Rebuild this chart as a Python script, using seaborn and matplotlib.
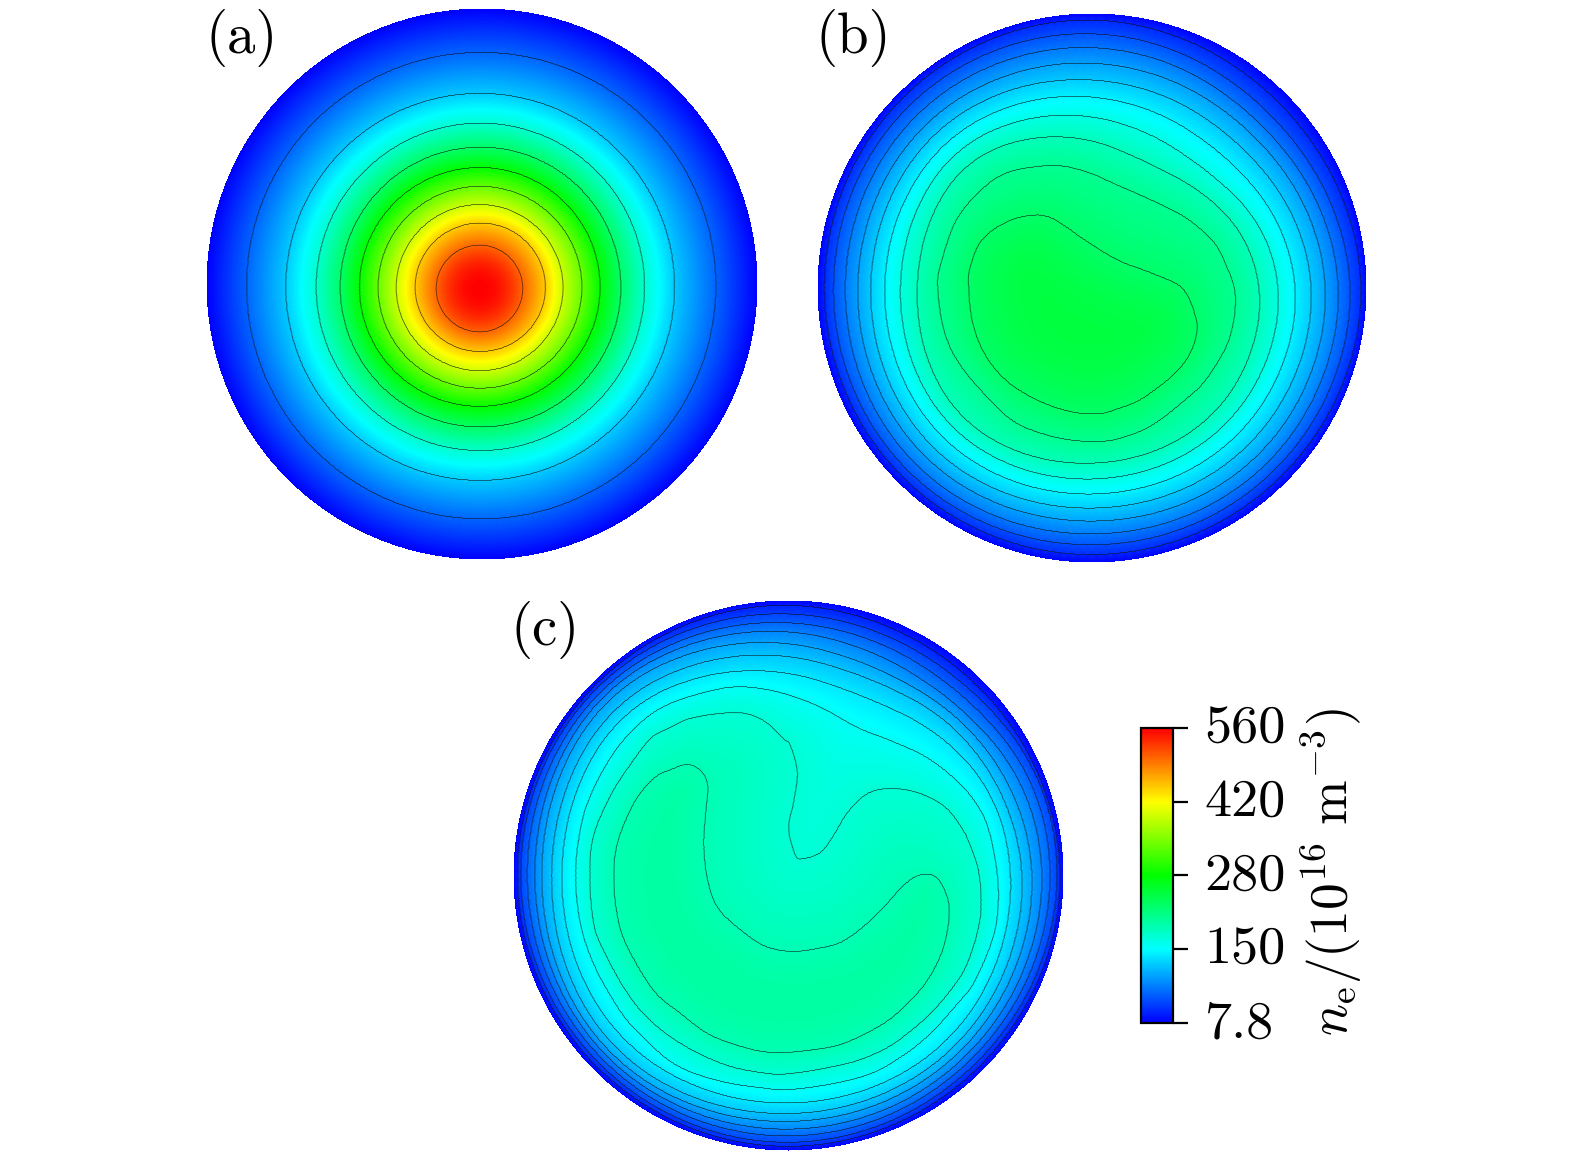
# Electron density maps (a), (b), (c) rebuilt from isolines

import numpy as np
import seaborn as sns
import matplotlib.pyplot as plt
from matplotlib.path import Path
from matplotlib.cm import ScalarMappable
from matplotlib.colors import Normalize
from matplotlib.transforms import ScaledTranslation

W, H = 1575, 1161
VMIN, VMAX = 7.8, 560.0

# Disk outlines: centre x, centre y, radius (reference pixels)
disk_a = [481.5, 283.0, 275.5]
disk_b = [1091.5, 287.0, 274.5]
disk_c = [788.0, 874.5, 275.0]

# Isoline levels and peak values
levels_a = [63, 118, 173, 229, 284, 339, 394, 450, 505]
levels_b = [30, 52, 74, 96, 118, 140, 162, 184, 206, 228]
levels_c = [26, 44, 62, 80, 98, 116, 134, 152, 170, 187]
peak_a, peak_b, peak_c = 560, 250, 197

# Panel (a): extreme points of each isoline, outer to inner
a_left = [246.2, 285.4, 315.8, 339.8, 359.0, 377.6, 395.7, 414.6, 435.7]
a_right = [715.3, 673.9, 644.0, 620.3, 599.5, 581.4, 562.5, 545.0, 522.2]
a_top = [51.9, 92.9, 122.7, 146.6, 167.0, 185.8, 204.0, 222.5, 244.6]
a_bottom = [518.3, 479.9, 450.0, 426.5, 405.8, 387.7, 370.2, 351.0, 331.4]

# Directions (degrees) used by the radius tables below
ring_angles = [0, 22.5, 45, 67.5, 90, 135, 180, 225, 270, 315]

# Panel (b): radius of outer isolines in those directions
b_rings = [
    [270, 265, 262, 264, 268, 268, 267.5, 268, 267, 267],
    [259, 252, 247, 250, 254, 258, 258.5, 260, 257, 258],
    [247, 240, 233, 236, 240, 246, 246.5, 250, 246, 248],
    [234, 227, 220, 221, 224, 233, 234, 238, 233, 236],
    [220, 212, 203, 204, 207, 220, 221, 226, 220, 222],
    [204, 195, 184, 185, 190, 206, 207, 212, 206, 207],
    [187, 177, 161, 162, 170, 192, 191, 198, 191, 191],
    [168, 157, 141, 134, 146, 176, 174, 184, 175, 175],
]
# Panel (b): inner isolines traced point by point
b_ninth_x = [1085, 1118, 1152, 1185, 1212, 1225, 1235, 1229, 1207, 1185, 1151, 1122,
             1100, 1075, 1048, 1015, 988, 958, 943, 937, 941, 955, 978, 1007, 1052]
b_ninth_y = [171, 185, 200, 217, 240, 263, 295, 338, 377, 399, 425, 437,
             441, 440, 435, 422, 398, 362, 328, 285, 261, 221, 192, 172, 165]
b_tenth_x = [1029, 1052, 1085, 1118, 1152, 1182, 1195, 1196, 1188, 1170, 1140, 1118,
             1100, 1075, 1042, 1008, 985, 972, 968, 970, 981, 1003]
b_tenth_y = [215, 218, 240, 260, 273, 288, 316, 334, 356, 377, 399, 408,
             413, 412, 402, 382, 355, 322, 285, 265, 240, 223]

# Panel (c): radius of outer isolines in those directions
c_rings = [
    [272, 269, 267, 267, 270, 271, 271, 271, 271.5, 270],
    [269, 268, 258, 258, 261, 268, 268, 267, 267.5, 265],
    [262, 260, 248, 248, 252, 263, 261, 262, 261, 259],
    [254, 250, 237, 236, 243, 258, 253, 257, 254, 253],
    [244, 238, 229, 222, 231, 252, 246, 252, 246, 246],
    [234, 227, 220, 209, 218, 241, 236, 245, 238, 238.6],
    [222, 218, 203, 190, 201, 230, 226, 233, 227.5, 229],
]
# Panel (c): inner isolines traced point by point
c_eighth_x = [790, 823, 857, 890, 923, 947, 970, 987, 997, 997, 990, 973, 957, 933, 907, 873, 833,
              790, 767, 717, 673, 633, 613, 593, 580, 575, 580, 590, 607, 627, 653, 683, 727, 760]
c_eighth_y = [695, 708, 727, 740, 755, 772, 795, 825, 875, 915, 945, 983, 1003, 1030, 1052, 1072, 1083,
              1089, 1088, 1080, 1063, 1027, 1000, 963, 923, 875, 828, 795, 762, 735, 712, 698, 687, 688]
c_ninth_x = [790, 797, 793, 788, 795, 803, 820, 833, 847, 867, 890, 917, 943, 960, 970, 979, 980, 967,
             950, 930, 907, 887, 857, 823, 790, 767, 727, 687, 653, 627, 603, 593, 589, 593, 610, 627,
             650, 670, 693, 737, 763, 783]
c_ninth_y = [745, 772, 802, 828, 855, 858, 852, 835, 812, 793, 788, 792, 805, 825, 845, 875, 917, 963,
             990, 1013, 1033, 1047, 1060, 1068, 1073, 1073, 1065, 1047, 1023, 993, 950, 923, 875, 835, 795, 768,
             738, 727, 717, 712, 720, 738]
c_tenth_x = [687, 700, 707, 705, 703, 707, 717, 737, 763, 790, 817, 840, 862, 883, 903, 918, 933, 943,
             949, 943, 927, 903, 880, 843, 807, 770, 737, 707, 680, 653, 627, 617, 613, 617, 633, 653, 673]
c_tenth_y = [764, 770, 785, 812, 845, 880, 907, 927, 945, 951, 948, 942, 927, 907, 885, 875, 875, 887,
             910, 947, 980, 1007, 1025, 1043, 1050, 1052, 1045, 1033, 1013, 990, 947, 917, 877, 842, 803, 778, 768]

tick_values = [VMIN, 146, 284, 422, VMAX]
tick_labels = ['7.8', '150', '280', '420', '560']

sns.set_theme(style='white')
plt.rcParams['font.family'] = ['cmr10', 'DejaVu Sans']
plt.rcParams['mathtext.fontset'] = 'cm'
plt.rcParams['axes.unicode_minus'] = False

density_cmap = sns.blend_palette(['#0000ff', '#00ffff', '#00ff00', '#ffff00', '#ff0000'], n_colors=256, as_cmap=True)


def closed_spline(x, y, sub=10):
    # Catmull-Rom through the read points
    p = np.column_stack([x, y]).astype(float)
    t = np.linspace(0, 1, sub, endpoint=False)[:, None]
    out = []
    for i in range(len(p)):
        p0, p1, p2, p3 = p[i - 1], p[i], p[(i + 1) % len(p)], p[(i + 2) % len(p)]
        out.append(0.5 * (2 * p1 + (p2 - p0) * t + (2 * p0 - 5 * p1 + 4 * p2 - p3) * t ** 2
                          + (3 * p1 - p0 - 3 * p2 + p3) * t ** 3))
    return np.vstack(out)


def ring_curve(disk, radii):
    # radii are wrapped round the full turn and rounded off a little
    ang = np.r_[np.array(ring_angles), 360.0]
    r = np.r_[np.array(radii, dtype=float), radii[0]]
    fine = np.arange(0, 360, 2.0)
    prof = np.interp(fine, ang, r)
    kernel = np.ones(13) / 13
    prof = np.convolve(np.r_[prof[-6:], prof, prof[:6]], kernel, mode='valid')
    a = np.deg2rad(fine)
    return np.column_stack([disk[0] + prof * np.cos(a), disk[1] - prof * np.sin(a)])


def outline_curve(disk):
    a = np.deg2rad(np.arange(0, 360, 1.0))
    return np.column_stack([disk[0] + disk[2] * np.cos(a), disk[1] - disk[2] * np.sin(a)])


def ellipse_curve(left, right, top, bottom):
    ang = np.linspace(0, 2 * np.pi, 240, endpoint=False)
    return np.column_stack([(left + right) / 2 + (right - left) / 2 * np.cos(ang),
                            (top + bottom) / 2 + (bottom - top) / 2 * np.sin(ang)])


def density_field(disk, curves, levels, peak, step=1.0):
    # fill the disk by interpolating between neighbouring isolines
    cx, cy, rad = disk
    xs = np.arange(cx - rad - 3, cx + rad + 3, step)
    ys = np.arange(cy - rad - 3, cy + rad + 3, step)
    gx, gy = np.meshgrid(xs, ys)
    pts = np.column_stack([gx.ravel(), gy.ravel()]).astype(np.float32)
    all_curves = [outline_curve(disk)] + curves
    vals = [VMIN] + list(levels)
    dist, inside = [], []
    for c in all_curves:
        cf = c.astype(np.float32)
        d = np.empty(len(pts), dtype=np.float32)
        for i in range(0, len(pts), 6000):
            chunk = pts[i:i + 6000]
            dx = chunk[:, 0, None] - cf[None, :, 0]
            dy = chunk[:, 1, None] - cf[None, :, 1]
            d[i:i + 6000] = np.sqrt((dx * dx + dy * dy).min(axis=1))
        dist.append(d)
        inside.append(Path(c).contains_points(pts))
    dist = np.array(dist)
    inside = np.array(inside)
    band = inside.sum(axis=0)
    field = np.full(len(pts), np.nan)
    n = len(all_curves)
    idx = np.arange(len(pts))
    for m in range(1, n):
        s = idx[band == m]
        d0, d1 = dist[m - 1, s], dist[m, s]
        field[s] = vals[m - 1] + (vals[m] - vals[m - 1]) * d0 / (d0 + d1 + 1e-6)
    s = idx[band == n]
    d = dist[n - 1, s]
    field[s] = vals[-1] + (peak - vals[-1]) * (1 - (1 - d / d.max()) ** 2)
    return xs, ys, field.reshape(gx.shape)


def draw_panel(disk, curves, levels, peak):
    xs, ys, field = density_field(disk, curves, levels, peak)
    ax = fig.add_axes([xs[0] / W, 1 - (ys[-1] + 1.0) / H, (xs[-1] + 1.0 - xs[0]) / W, (ys[-1] + 1.0 - ys[0]) / H])
    mask = np.isnan(field)
    sns.heatmap(field, mask=mask, cmap=density_cmap, vmin=VMIN, vmax=VMAX, cbar=False,
                xticklabels=False, yticklabels=False, ax=ax, rasterized=True)
    ax.contour(np.arange(len(xs)) + 0.5, np.arange(len(ys)) + 0.5, np.ma.masked_invalid(field),
               levels=levels, colors='#101010', linewidths=0.45, alpha=0.85)
    ax.set_xlim(0, len(xs))
    ax.set_ylim(len(ys), 0)
    ax.axis('off')


fig = plt.figure(figsize=(W / 100, H / 100), dpi=100, facecolor='white')

curves_a = [ellipse_curve(*v) for v in zip(a_left, a_right, a_top, a_bottom)]
draw_panel(disk_a, curves_a, levels_a, peak_a)

curves_b = [ring_curve(disk_b, r) for r in b_rings]
curves_b += [closed_spline(b_ninth_x, b_ninth_y), closed_spline(b_tenth_x, b_tenth_y)]
draw_panel(disk_b, curves_b, levels_b, peak_b)

curves_c = [ring_curve(disk_c, r) for r in c_rings]
curves_c += [closed_spline(c_eighth_x, c_eighth_y), closed_spline(c_ninth_x, c_ninth_y),
             closed_spline(c_tenth_x, c_tenth_y)]
draw_panel(disk_c, curves_c, levels_c, peak_c)

# Panel letters
for label, px, py in [('(a)', 205, 38), ('(b)', 815, 38), ('(c)', 510, 630)]:
    fig.text(px / W, 1 - py / H, label, fontsize=41, color='black', ha='left', va='center')

# Colour bar
cax = fig.add_axes([1141 / W, 1 - 1023 / H, 32 / W, 295 / H])
cbar = fig.colorbar(ScalarMappable(norm=Normalize(VMIN, VMAX), cmap=density_cmap), cax=cax, ticks=tick_values)
cbar.ax.set_yticklabels(tick_labels)
cbar.ax.tick_params(length=10.8, width=1.6, pad=12, labelsize=39, colors='black', right=True)
for lab in cbar.ax.get_yticklabels():
    lab.set_transform(lab.get_transform() + ScaledTranslation(0, 3 / 72, fig.dpi_scale_trans))
cbar.outline.set_linewidth(1.6)
cbar.outline.set_edgecolor('black')
fig.text(1332 / W, 1 - 872 / H, r'$n_{\mathrm{e}}/(10^{16}\ \mathrm{m}^{-3})$', fontsize=38.5,
         rotation=90, ha='center', va='center', color='black')

plt.savefig('out.png', dpi=100)
plt.close()
